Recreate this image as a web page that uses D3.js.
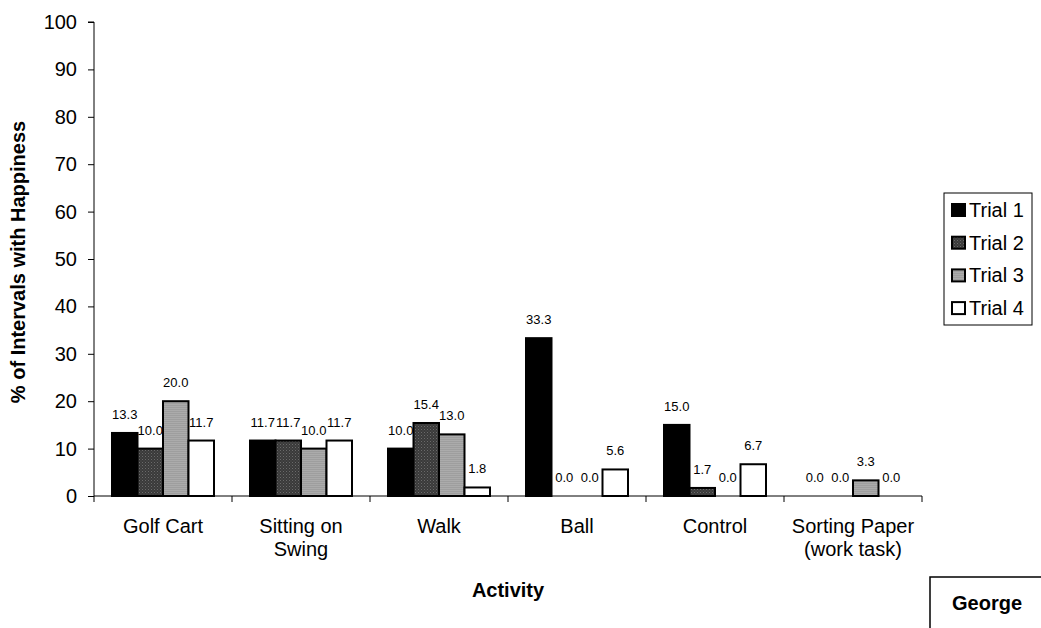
<!DOCTYPE html>
<html>
<head>
<meta charset="utf-8">
<script src="https://cdn.jsdelivr.net/npm/d3@7"></script>
<style>
  body { margin: 0; background: #fff; }
  svg { display: block; font-family: Arial, "Liberation Sans", sans-serif; }
</style>
</head>
<body>
<svg id="chart" width="1041" height="628"></svg>
<script>
// Activity categories (multi-line labels split on "\n")
const categories = ["Golf Cart", "Sitting on\nSwing", "Walk", "Ball", "Control", "Sorting Paper\n(work task)"];
const seriesNames = ["Trial 1", "Trial 2", "Trial 3", "Trial 4"];
const trial1 = [13.3, 11.7, 10.0, 33.3, 15.0, 0.0];
const trial2 = [10.0, 11.7, 15.4, 0.0, 1.7, 0.0];
const trial3 = [20.0, 10.0, 13.0, 0.0, 0.0, 3.3];
const trial4 = [11.7, 11.7, 1.8, 5.6, 6.7, 0.0];
const yTicks = [0, 10, 20, 30, 40, 50, 60, 70, 80, 90, 100];

const series = [trial1, trial2, trial3, trial4];

const svg = d3.select("#chart");
const defs = svg.append("defs");

// Dotted dark fill for Trial 2
const p2 = defs.append("pattern").attr("id", "pat2").attr("patternUnits", "userSpaceOnUse")
  .attr("width", 3).attr("height", 3);
p2.append("rect").attr("width", 3).attr("height", 3).attr("fill", "#3a3a3a");
p2.append("rect").attr("x", 0).attr("y", 0).attr("width", 1).attr("height", 1).attr("fill", "#6a6a6a");
p2.append("rect").attr("x", 1.5).attr("y", 1.5).attr("width", 1).attr("height", 1).attr("fill", "#555");

// Fine horizontal texture for Trial 3
const p3 = defs.append("pattern").attr("id", "pat3").attr("patternUnits", "userSpaceOnUse")
  .attr("width", 4).attr("height", 2);
p3.append("rect").attr("width", 4).attr("height", 2).attr("fill", "#ababab");
p3.append("rect").attr("y", 1).attr("width", 4).attr("height", 1).attr("fill", "#9e9e9e");

const fills = ["#000000", "url(#pat2)", "url(#pat3)", "#ffffff"];

const plot = { left: 94, right: 922, top: 22, bottom: 496 };

const x0 = d3.scaleBand().domain(categories).range([plot.left, plot.right]).paddingInner(0).paddingOuter(0);
const x1 = d3.scaleBand().domain(seriesNames).range([18, x0.bandwidth() - 18]).padding(0);
const y = d3.scaleLinear().domain([0, 100]).range([plot.bottom, plot.top]);

// Y axis
const yAxis = d3.axisLeft(y).tickValues(yTicks).tickSize(6).tickPadding(11).tickFormat(d3.format("d"));
const gy = svg.append("g").attr("transform", `translate(${plot.left},0)`).call(yAxis);
gy.select(".domain").attr("stroke", "#000").attr("stroke-width", 1).attr("d", `M-6,${plot.top}H0V${plot.bottom}`);
gy.selectAll(".tick line").attr("stroke", "#000");
gy.selectAll(".tick text").attr("font-size", 20).attr("fill", "#000").attr("font-family", "Arial, 'Liberation Sans', sans-serif");

// X axis baseline with category separators
const gx = svg.append("g").attr("transform", `translate(0,${plot.bottom})`);
gx.append("line").attr("x1", plot.left).attr("x2", plot.right).attr("stroke", "#000");
const bounds = categories.map(c => x0(c)).concat([plot.right]);
gx.selectAll("line.sep").data(bounds).join("line").attr("class", "sep")
  .attr("x1", d => d).attr("x2", d => d).attr("y1", 0).attr("y2", 6).attr("stroke", "#000");

// Category labels
categories.forEach(c => {
  const lines = c.split("\n");
  const cx = x0(c) + x0.bandwidth() / 2;
  const t = svg.append("text").attr("x", cx).attr("y", 533)
    .attr("text-anchor", "middle").attr("font-size", 20).attr("fill", "#000");
  lines.forEach((l, i) => t.append("tspan").attr("x", cx).attr("dy", i === 0 ? 0 : 23).text(l));
});

// Bars with value labels
const groups = svg.append("g").selectAll("g").data(categories).join("g")
  .attr("transform", c => `translate(${x0(c)},0)`);

groups.each(function(c, ci) {
  const g = d3.select(this);
  seriesNames.forEach((s, si) => {
    const v = series[si][ci];
    if (v > 0) {
      g.append("rect")
        .attr("x", x1(s))
        .attr("y", y(v))
        .attr("width", x1.bandwidth())
        .attr("height", y(0) - y(v))
        .attr("fill", fills[si])
        .attr("stroke", "#000")
        .attr("stroke-width", 2);
    }
    g.append("text")
      .attr("x", x1(s) + x1.bandwidth() / 2)
      .attr("y", y(v) - 14)
      .attr("text-anchor", "middle")
      .attr("font-size", 13)
      .attr("fill", "#000")
      .text(d3.format(".1f")(v));
  });
});

// Axis titles
svg.append("text").attr("transform", `translate(25,${(plot.top + plot.bottom) / 2 + 3}) rotate(-90)`)
  .attr("text-anchor", "middle").attr("font-size", 20).attr("font-weight", "bold").attr("fill", "#000")
  .text("% of Intervals with Happiness");
svg.append("text").attr("x", 508).attr("y", 597).attr("text-anchor", "middle")
  .attr("font-size", 20).attr("font-weight", "bold").attr("fill", "#000").text("Activity");

// Legend
const legend = svg.append("g");
legend.append("rect").attr("x", 944).attr("y", 193).attr("width", 88).attr("height", 132)
  .attr("fill", "#fff").attr("stroke", "#000").attr("stroke-width", 1);
seriesNames.forEach((s, i) => {
  const base = 217 + i * 32.7;
  legend.append("rect").attr("x", 952).attr("y", base - 13).attr("width", 13).attr("height", 12)
    .attr("fill", fills[i]).attr("stroke", "#000").attr("stroke-width", 2);
  legend.append("text").attr("x", 969).attr("y", base).attr("font-size", 20).attr("fill", "#000").text(s);
});

// Name box
svg.append("rect").attr("x", 930).attr("y", 577).attr("width", 120).attr("height", 60)
  .attr("fill", "#fff").attr("stroke", "#000").attr("stroke-width", 1.5);
svg.append("text").attr("x", 952).attr("y", 610).attr("font-size", 20).attr("font-weight", "bold")
  .attr("fill", "#000").text("George");
</script>
</body>
</html>
